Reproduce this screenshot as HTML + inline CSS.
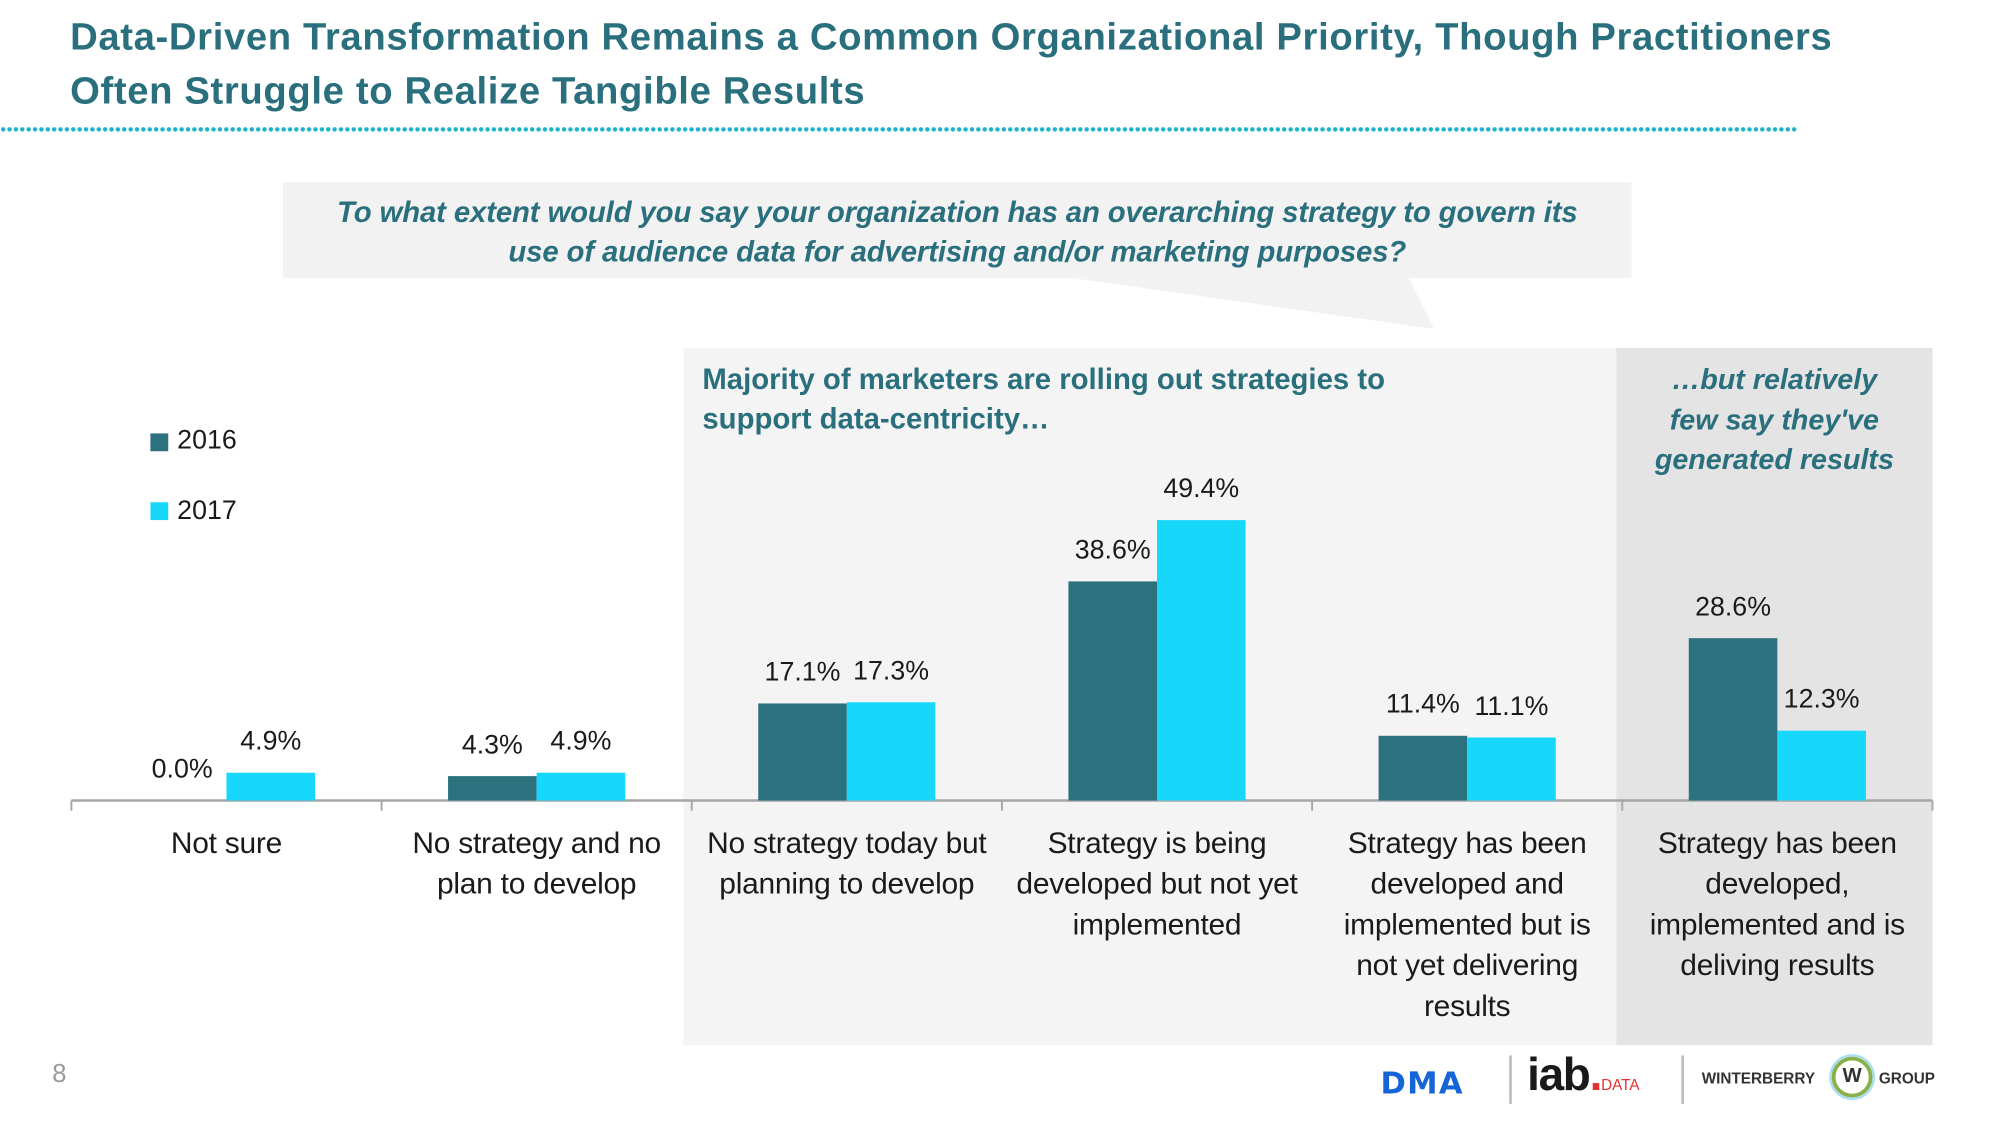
<!DOCTYPE html>
<html><head><meta charset="utf-8">
<style>
html,body{margin:0;padding:0;background:#fff;}
body{width:2000px;height:1126px;overflow:hidden;position:relative;}
#wrap{position:absolute;left:0;top:0;width:1569px;height:884px;transform:scale(1.2747);transform-origin:0 0;font-family:"Liberation Sans",sans-serif;}
.abs{position:absolute;}
.title{left:55px;color:#2a6f7d;font-weight:bold;font-size:30px;letter-spacing:0.5px;white-space:nowrap;}
.cat{position:absolute;text-align:center;font-size:23.5px;line-height:32px;color:#1a1a1a;letter-spacing:-0.2px;}
.val{position:absolute;font-size:21px;color:#1a1a1a;text-align:center;width:90px;}
</style></head><body>
<div id="wrap">
  <div class="abs title" style="top:13px">Data-Driven Transformation Remains a Common Organizational Priority, Though Practitioners</div>
  <div class="abs title" style="top:55px">Often Struggle to Realize Tangible Results</div>
  <div class="abs" style="left:0;top:99px;width:1410px;height:5px;background-image:radial-gradient(circle,#1ab3cc 1.6px,transparent 1.8px);background-size:5px 5px;"></div>

  <svg class="abs" style="left:0;top:0" width="1569" height="884">
    <rect x="222" y="143" width="1058" height="75" fill="#f2f2f2"/>
    <polygon points="840,218 1105,218 1125,258" fill="#f2f2f2"/>
    <rect x="536" y="273" width="732" height="547" fill="#f4f4f4"/>
    <rect x="1268" y="273" width="248" height="547" fill="#e4e4e4"/>
  </svg>
  <div class="abs" style="left:222px;top:151px;width:1058px;text-align:center;color:#2a6f7d;font-weight:bold;font-style:italic;font-size:23px;line-height:31px;letter-spacing:-0.1px;white-space:nowrap;">To what extent would you say your organization has an overarching strategy to govern its<br>use of audience data for advertising and/or marketing purposes?</div>
  <div class="abs" style="left:551px;top:282px;color:#2a6f7d;font-weight:bold;font-size:23px;line-height:31px;white-space:nowrap;">Majority of marketers are rolling out strategies to<br>support data-centricity…</div>
  <div class="abs" style="left:1268px;top:282px;width:248px;text-align:center;color:#2a6f7d;font-weight:bold;font-style:italic;font-size:22.5px;line-height:31.5px;">…but relatively<br>few say they've<br>generated results</div>

  <div class="abs" style="left:118px;top:340px;width:14px;height:14px;background:#2b717e"></div>
  <div class="abs" style="left:139px;top:334px;font-size:21px;color:#1a1a1a">2016</div>
  <div class="abs" style="left:118px;top:394px;width:14px;height:14px;background:#17d7fb"></div>
  <div class="abs" style="left:139px;top:389px;font-size:21px;color:#1a1a1a">2017</div>

  <svg id="chart" class="abs" style="left:0;top:0" width="1569" height="884"></svg>

  <div class="abs" style="left:41px;top:832px;font-size:20px;color:#999">8</div>
  <div class="abs" style="left:1083px;top:836px;font-size:24px;font-weight:bold;color:#1565d8;letter-spacing:1px;font-family:'DejaVu Sans',sans-serif">DMA</div>
  <div class="abs" style="left:1184px;top:828px;width:2px;height:38px;background:#bbb"></div>
  <div class="abs" style="left:1198px;top:822px;font-size:36px;font-weight:bold;color:#1a1a1a;letter-spacing:-1px">iab<span style="color:#e53030">.</span><span style="font-size:12px;color:#e53030;font-weight:normal;letter-spacing:0">DATA</span></div>
  <div class="abs" style="left:1319px;top:828px;width:2px;height:38px;background:#bbb"></div>
  <div class="abs" style="left:1335px;top:839px;font-size:12px;font-weight:bold;color:#333">WINTERBERRY</div>
  <div class="abs" style="left:1437px;top:829px;width:26px;height:26px;border-radius:50%;border:3px solid #8bb04a;box-shadow:0 0 0 2px #a9dff0;text-align:center;font-weight:bold;font-size:16px;line-height:26px;color:#333">W</div>
  <div class="abs" style="left:1474px;top:839px;font-size:12px;font-weight:bold;color:#333">GROUP</div>
</div>
<script>
const categories = [
  ["Not sure"],
  ["No strategy and no","plan to develop"],
  ["No strategy today but","planning to develop"],
  ["Strategy is being","developed but not yet","implemented"],
  ["Strategy has been","developed and","implemented but is","not yet delivering","results"],
  ["Strategy has been","developed,","implemented and is","deliving results"]
];
const values2016 = [0.0, 4.3, 17.1, 38.6, 11.4, 28.6];
const values2017 = [4.9, 4.9, 17.3, 49.4, 11.1, 12.3];
const labels2016 = ["0.0%","4.3%","17.1%","38.6%","11.4%","28.6%"];
const labels2017 = ["4.9%","4.9%","17.3%","49.4%","11.1%","12.3%"];

const NS = "http://www.w3.org/2000/svg";
const svg = document.getElementById('chart');
const wrap = document.getElementById('wrap');
const x0 = 56, x1 = 1516, baseY = 628, pxPer = 4.453, barW = 69.5;
const bandW = (x1 - x0) / categories.length;
function xCenter(i){ return x0 + bandW * (i + 0.5); }
function yScale(v){ return baseY - v * pxPer; }

function bar(x, v, color, name){
  const r = document.createElementNS(NS,'rect');
  r.setAttribute('x', x); r.setAttribute('y', yScale(v));
  r.setAttribute('width', barW); r.setAttribute('height', baseY - yScale(v));
  r.setAttribute('fill', color);
  
  
  svg.appendChild(r);
}
function valLabel(cx, v, text, name){
  const d = document.createElement('div');
  d.className = 'val';
  d.style.left = (cx - 45) + 'px';
  d.style.top = (yScale(v) - 36) + 'px';
  d.textContent = text;
  
  
  wrap.appendChild(d);
}
const ax = document.createElementNS(NS,'line');
ax.setAttribute('x1', x0); ax.setAttribute('x2', x1); ax.setAttribute('y1', baseY); ax.setAttribute('y2', baseY);
ax.setAttribute('stroke', '#a6a6a6'); ax.setAttribute('stroke-width', '2');


svg.appendChild(ax);
for (let i = 0; i <= categories.length; i++){
  const t = document.createElementNS(NS,'line');
  const tx = x0 + bandW * i;
  t.setAttribute('x1', tx); t.setAttribute('x2', tx); t.setAttribute('y1', baseY); t.setAttribute('y2', baseY + 8);
  t.setAttribute('stroke', '#a6a6a6'); t.setAttribute('stroke-width', '1.5');
  
  
  svg.appendChild(t);
}
categories.forEach((lines, i) => {
  const cx = xCenter(i);
  bar(cx - barW, values2016[i], '#2b717e', 'bar-2016-' + i);
  bar(cx, values2017[i], '#17d7fb', 'bar-2017-' + i);
  valLabel(cx - barW/2, values2016[i], labels2016[i], 'value-label-2016-' + i);
  valLabel(cx + barW/2, values2017[i], labels2017[i], 'value-label-2017-' + i);
  const c = document.createElement('div');
  c.className = 'cat';
  c.style.left = (cx - bandW/2 - 8) + 'px';
  c.style.width = (bandW + 16) + 'px';
  c.style.top = '645px';
  c.innerHTML = lines.join('<br>');
  
  
  wrap.appendChild(c);
});
</script>
</body></html>
